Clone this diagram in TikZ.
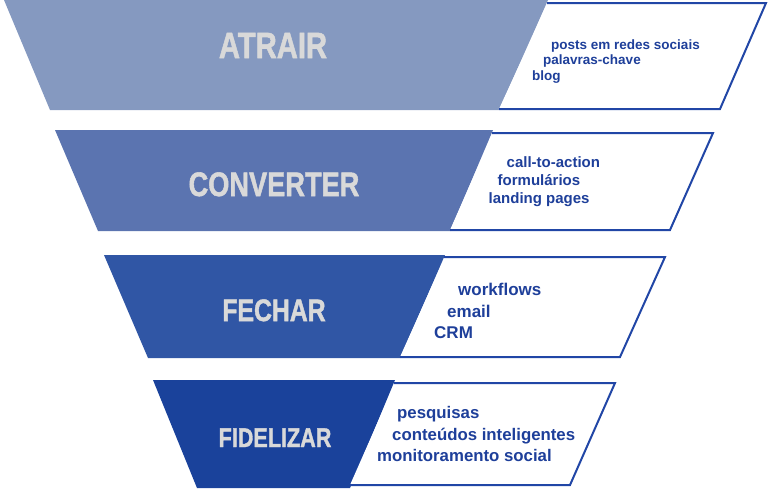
\documentclass[tikz,border=0pt]{standalone}
\usepackage{fontspec}
\setmainfont{Liberation Sans}
\newfontfamily\lblfont[FakeBold=1.6]{Liberation Sans Bold}
\definecolor{fillA}{HTML}{8599C0}
\definecolor{fillB}{HTML}{5B74B0}
\definecolor{fillC}{HTML}{3056A5}
\definecolor{fillD}{HTML}{1A429B}
\definecolor{edgeblue}{HTML}{2146A6}
\definecolor{txtblue}{HTML}{1E3F9A}
\definecolor{lblgray}{HTML}{D9D9D9}
\tikzset{
  boxline/.style={draw=edgeblue, line width=2pt, line join=miter},
  stagelbl/.style={inner sep=0pt, anchor=base, text=lblgray},
  item/.style={inner sep=0pt, anchor=base west, text=txtblue, font=\bfseries}
}
\newcommand{\lbl}[2]{\fontsize{#1}{#1}\lblfont\scalebox{0.8}[1]{#2}}
\begin{document}
\begin{tikzpicture}[x=1pt,y=-1pt]
\useasboundingbox (0,0) rectangle (768,488);
% band 1
\fill[fillA] (4,0) -- (548,0) -- (499,110) -- (50,110) -- cycle;
\fill[white] (548,3) -- (766,3) -- (720,109) -- (499,109) -- cycle;
\draw[boxline] (547,3) -- (766,3) -- (720,109) -- (499,109);
\node[stagelbl] (atrair) at (273,58) {\lbl{36.5}{ATRAIR}};
\node[item, font=\bfseries\fontsize{13.5}{13.5}\selectfont] (t11) at (551,49.5) {posts em redes sociais};
\node[item, font=\bfseries\fontsize{13.5}{13.5}\selectfont] (t12) at (543,64.5) {palavras-chave};
\node[item, font=\bfseries\fontsize{13.5}{13.5}\selectfont] (t13) at (532,80) {blog};
% band 2
\fill[fillB] (55,130) -- (493,130) -- (450,231) -- (98,231) -- cycle;
\fill[white] (493,133) -- (713,133) -- (670,230) -- (450,230) -- cycle;
\draw[boxline] (492,133) -- (713,133) -- (670,230) -- (450,230);
\node[stagelbl] (converter) at (274,196) {\lbl{34}{CONVERTER}};
\node[item, font=\bfseries\fontsize{15}{15}\selectfont] (t21) at (506.5,167.5) {call-to-action};
\node[item, font=\bfseries\fontsize{15}{15}\selectfont] (t22) at (497.5,185.5) {formulários};
\node[item, font=\bfseries\fontsize{15}{15}\selectfont] (t23) at (488.5,203.5) {landing pages};
% band 3
\fill[fillC] (104,255) -- (445,255) -- (400,358) -- (148,358) -- cycle;
\fill[white] (445,257) -- (665,257) -- (620,357) -- (400,357) -- cycle;
\draw[boxline] (444,257) -- (665,257) -- (620,357) -- (400,357);
\node[stagelbl] (fechar) at (274,321) {\lbl{31}{FECHAR}};
\node[item, font=\bfseries\fontsize{17}{17}\selectfont] (t31) at (458,295.5) {workflows};
\node[item, font=\bfseries\fontsize{17}{17}\selectfont] (t32) at (447,317) {email};
\node[item, font=\bfseries\fontsize{17}{17}\selectfont] (t33) at (434,338) {CRM};
% band 4
\fill[fillD] (153,380) -- (395,380) -- (350,488) -- (197,488) -- cycle;
\fill[white] (395,383) -- (615,383) -- (570,485) -- (350,485) -- cycle;
\draw[boxline] (394,383) -- (615,383) -- (570,485) -- (350,485);
\node[stagelbl] (fidelizar) at (275,447) {\lbl{27}{FIDELIZAR}};
\node[item, font=\bfseries\fontsize{16.8}{16.8}\selectfont] (t41) at (397,418) {pesquisas};
\node[item, font=\bfseries\fontsize{16.8}{16.8}\selectfont] (t42) at (392,440) {conteúdos inteligentes};
\node[item, font=\bfseries\fontsize{16.8}{16.8}\selectfont] (t43) at (377,461) {monitoramento social};
\end{tikzpicture}
\end{document}
